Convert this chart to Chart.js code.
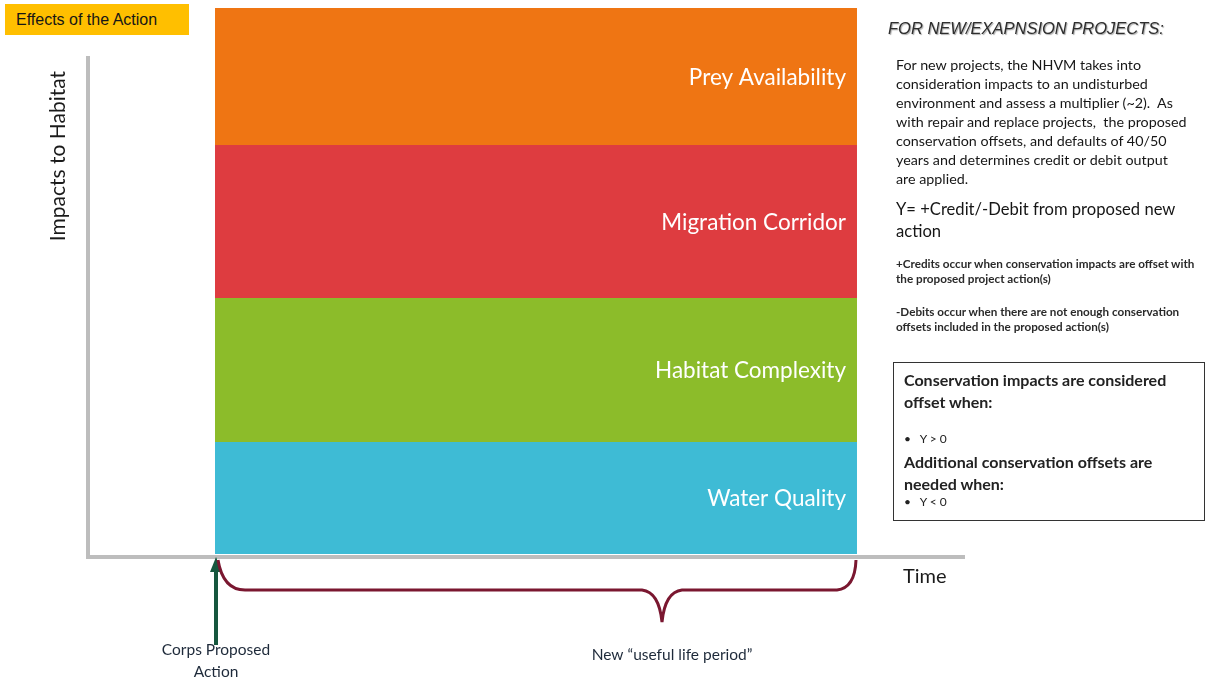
<!DOCTYPE html>
<html>
<head>
<meta charset="utf-8">
<script src="https://cdn.jsdelivr.net/npm/chart.js@4"></script>
<style>
  html, body { margin: 0; padding: 0; background: #fff; }
  #wrap { position: relative; width: 1210px; height: 679px; overflow: hidden; }
  canvas { position: absolute; left: 0; top: 0; }
  .t { position: absolute; white-space: nowrap; color: #1e1e1e; font-family: Lato, "Open Sans", sans-serif; }
  #badge { left: 5px; top: 4px; width: 184px; height: 31px; background: #ffbf00;
           font-family: "Liberation Sans", Arial, sans-serif; font-size: 16px; line-height: 31px;
           text-indent: 11px; color: #161616; }
  #head { left: 888px; top: 19px; font-family: "Liberation Sans", Arial, sans-serif; font-style: italic;
          font-size: 16.5px; color: #2e2e2e; text-shadow: 1px 1px 1px #aaa; }
  #body1 { left: 896px; top: 55px; font-size: 14.3px; line-height: 19px; color: #161616; }
  #body2 { left: 896px; top: 198px; font-size: 16.6px; line-height: 22px; color: #161616; }
  #body3 { left: 896px; top: 256px; font-size: 11.7px; line-height: 15px; font-weight: bold; color: #2a2a2a; }
  #body4 { left: 896px; top: 304px; font-size: 11.7px; line-height: 15px; font-weight: bold; color: #2a2a2a; }
  #box { position: absolute; left: 893px; top: 362px; width: 312px; height: 159px; border: 1px solid #333; box-sizing: border-box; }
  #box .t { left: 10px; font-size: 16px; font-weight: bold; color: #222; }
  #box .b { font-size: 12px; font-weight: normal; }
</style>
</head>
<body>
<div id="wrap">
  <canvas id="chart" width="1210" height="679"></canvas>
  <div class="t" id="badge">Effects of the Action</div>
  <div class="t" id="head">FOR NEW/EXAPNSION PROJECTS:</div>
  <div class="t" id="body1">For new projects, the NHVM takes into<br>consideration impacts to an undisturbed<br>environment and assess a multiplier (~2).&nbsp; As<br>with repair and replace projects,&nbsp; the proposed<br>conservation offsets, and defaults of 40/50<br>years and determines credit or debit output<br>are applied.</div>
  <div class="t" id="body2">Y= +Credit/-Debit from proposed new<br>action</div>
  <div class="t" id="body3">+Credits occur when conservation impacts are offset with<br>the proposed project action(s)</div>
  <div class="t" id="body4">-Debits occur when there are not enough conservation<br>offsets included in the proposed action(s)</div>
  <div id="box">
    <div class="t" style="top:6px;line-height:22px">Conservation impacts are considered<br>offset when:</div>
    <div class="t b" style="top:68px">&#8226;&nbsp;&nbsp; Y &gt; 0</div>
    <div class="t" style="top:88px;line-height:22px">Additional conservation offsets are<br>needed when:</div>
    <div class="t b" style="top:131px">&#8226;&nbsp;&nbsp; Y &lt; 0</div>
  </div>
</div>
<script>
// layers stacked from the bottom up
const layers = ['Water Quality', 'Habitat Complexity', 'Migration Corridor', 'Prey Availability'];
const impacts = [112, 144, 153, 137];
const layerColors = ['#3ebbd5', '#8cbc2a', '#de3c40', '#ef7513'];
const periods = ['New \u201cuseful life period\u201d'];
const yTitle = 'Impacts to Habitat';
const xTitle = 'Time';
const actionLabel = ['Corps Proposed', 'Action'];

const axisLines = {
    id: 'axisLines',
    beforeDatasetsDraw(chart) {
        const ctx = chart.ctx;
        const a = chart.chartArea;
        ctx.save();
        ctx.strokeStyle = '#bdbdbd';
        ctx.lineWidth = 4;
        ctx.beginPath();
        ctx.moveTo(a.left, 56);
        ctx.lineTo(a.left, a.bottom + 3);
        ctx.lineTo(965, a.bottom + 3);
        ctx.stroke();
        ctx.restore();
    }
};

const annotations = {
    id: 'annotations',
    afterDraw(chart) {
        const ctx = chart.ctx;
        const a = chart.chartArea;
        const metas = layers.map((_, i) => chart.getDatasetMeta(i).data[0]);
        const bar = metas[0];
        const x0 = bar.x - bar.width / 2;
        const x1 = bar.x + bar.width / 2;
        ctx.save();

        // labels inside the layers
        ctx.fillStyle = '#ffffff';
        ctx.font = '22.5px Lato, "Open Sans", sans-serif';
        ctx.textAlign = 'right';
        ctx.textBaseline = 'middle';
        metas.forEach((el, i) => {
            ctx.fillText(layers[i], x1 - 11, (el.y + el.base) / 2 + 1);
        });

        // axis titles
        ctx.fillStyle = '#1a1a1a';
        ctx.font = '21px Lato, "Open Sans", sans-serif';
        ctx.save();
        ctx.translate(58, 156);
        ctx.rotate(-Math.PI / 2);
        ctx.textAlign = 'center';
        ctx.fillText(yTitle, 0, 0);
        ctx.restore();
        ctx.textAlign = 'left';
        ctx.font = '20px Lato, "Open Sans", sans-serif';
        ctx.fillText(xTitle, 903, 577);

        // arrow for the proposed action
        ctx.strokeStyle = '#16573e';
        ctx.fillStyle = '#16573e';
        ctx.lineWidth = 4;
        ctx.beginPath();
        ctx.moveTo(x0 + 1, 645);
        ctx.lineTo(x0 + 1, 568);
        ctx.stroke();
        ctx.beginPath();
        ctx.moveTo(x0 + 1, a.bottom + 3);
        ctx.lineTo(x0 - 5, 572);
        ctx.lineTo(x0 + 7, 572);
        ctx.closePath();
        ctx.fill();

        // brace under the useful life period
        const mid = bar.x + 126;
        ctx.strokeStyle = '#7a1730';
        ctx.lineWidth = 3;
        ctx.beginPath();
        ctx.moveTo(x0 + 3, 560);
        ctx.quadraticCurveTo(x0 + 8, 590, x0 + 30, 590);
        ctx.lineTo(mid - 20, 590);
        ctx.quadraticCurveTo(mid - 3, 592, mid, 622);
        ctx.quadraticCurveTo(mid + 3, 592, mid + 20, 590);
        ctx.lineTo(x1 - 20, 590);
        ctx.quadraticCurveTo(x1 - 2, 588, x1 - 1, 560);
        ctx.stroke();

        // bottom texts
        ctx.fillStyle = '#1e2a3a';
        ctx.font = '15.5px Lato, "Open Sans", sans-serif';
        ctx.textAlign = 'center';
        ctx.fillText(actionLabel[0], x0 + 1, 650);
        ctx.fillText(actionLabel[1], x0 + 1, 672);
        ctx.fillText(periods[0], mid + 10, 655);
        ctx.restore();
    }
};

new Chart(document.getElementById('chart'), {
    type: 'bar',
    data: {
        labels: periods,
        datasets: layers.map((name, i) => ({
            label: name,
            data: [impacts[i]],
            backgroundColor: layerColors[i],
            borderWidth: 0,
            categoryPercentage: 1,
            barPercentage: 0.7165
        }))
    },
    options: {
        responsive: false,
        animation: false,
        layout: { padding: { left: 88, right: 226, top: 8, bottom: 125 } },
        plugins: { legend: { display: false }, tooltip: { enabled: false } },
        scales: {
            x: { stacked: true, display: false },
            y: { stacked: true, display: false, min: 0, max: 546 }
        }
    },
    plugins: [axisLines, annotations]
});
</script>
</body>
</html>
